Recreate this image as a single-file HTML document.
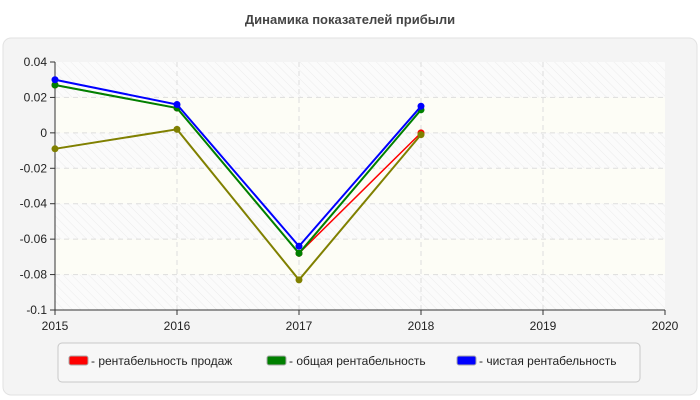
<!DOCTYPE html>
<html><head><meta charset="utf-8"><style>
body{margin:0;background:#fff;font-family:"Liberation Sans",sans-serif;}
svg{display:block}
</style></head><body>
<svg id="c" width="700" height="400" xmlns="http://www.w3.org/2000/svg">
<defs>
<pattern id="hatch" width="6" height="6" patternUnits="userSpaceOnUse" patternTransform="rotate(-45)">
<rect width="6" height="6" fill="#fbfbfb"/><line x1="0" y1="0" x2="0" y2="6" stroke="#ececec" stroke-width="1"/>
</pattern>
</defs>
<text x="350" y="24" text-anchor="middle" font-size="13" font-weight="bold" fill="#444">Динамика показателей прибыли</text>
<rect x="3" y="38" width="694" height="357" rx="8" fill="#f4f4f4" stroke="#e2e2e2"/>
<g id="plot"></g>
<g>
<rect x="58" y="343" width="582" height="39" rx="4" fill="#f7f7f7" stroke="#c8c8c8"/>
<g><rect x="69" y="356" width="19" height="9" rx="2" fill="#f00" stroke="#aaa"/><text x="91" y="365" font-size="12" fill="#222">- рентабельность продаж</text></g>
<g><rect x="267" y="356" width="19" height="9" rx="2" fill="#008000" stroke="#aaa"/><text x="289" y="365" font-size="12" fill="#222">- общая рентабельность</text></g>
<g><rect x="457" y="356" width="19" height="9" rx="2" fill="#00f" stroke="#aaa"/><text x="479" y="365" font-size="12" fill="#222">- чистая рентабельность</text></g>
</g>
</svg>
<script>
const years = [2015, 2016, 2017, 2018];
const xTicks = [2015, 2016, 2017, 2018, 2019, 2020];
const yTicks = [0.04, 0.02, 0, -0.02, -0.04, -0.06, -0.08, -0.1];
const yTickLabels = ["0.04","0.02","0","-0.02","-0.04","-0.06","-0.08","-0.1"];
const salesVals = [0.027, 0.014, -0.068, 0.0];
const totalVals = [0.027, 0.014, -0.068, 0.013];
const netVals = [0.030, 0.016, -0.064, 0.015];
const extraVals = [-0.009, 0.002, -0.083, -0.001];

const NS="http://www.w3.org/2000/svg";
const X0=55,X1=665,Y0=62,Y1=310;
const xs=v=>X0+(v-2015)/(2020-2015)*(X1-X0);
const ys=v=>Y0+(0.04-v)/(0.04+0.1)*(Y1-Y0);
const g=document.getElementById('plot');
function mk(t,a,p){const e=document.createElementNS(NS,t);for(const k in a)e.setAttribute(k,a[k]);(p||g).appendChild(e);return e;}
const bg=mk('rect',{x:X0,y:Y0,width:X1-X0,height:Y1-Y0,fill:'url(#hatch)'});


for(let i=0;i<yTicks.length-1;i+=2){const b=mk('rect',{x:X0,y:ys(yTicks[i+1]),width:X1-X0,height:ys(yTicks[i+2]??-0.1)-ys(yTicks[i+1]),fill:'#fdfdf6'});

}
yTicks.forEach((v,i)=>{
 if(i>0&&i<yTicks.length-1){const l=mk('line',{x1:X0,x2:X1,y1:ys(v),y2:ys(v),stroke:'#ddd','stroke-dasharray':'5,4'});
 
 }
 mk('line',{x1:X0-5,x2:X0,y1:ys(v),y2:ys(v),stroke:'#333'});
 const t=mk('text',{x:X0-8,y:ys(v)+4,'text-anchor':'end','font-size':12,fill:'#222'});t.textContent=yTickLabels[i];
 
 
});
xTicks.forEach(v=>{
 if(v>2015&&v<2020){const l=mk('line',{x1:xs(v),x2:xs(v),y1:Y0,y2:Y1,stroke:'#ddd','stroke-dasharray':'5,4'});
 
 }
 mk('line',{x1:xs(v),x2:xs(v),y1:Y1,y2:Y1+5,stroke:'#333'});
 const t=mk('text',{x:xs(v),y:Y1+20,'text-anchor':'middle','font-size':12,fill:'#222'});t.textContent=v;
 
 
});
const ya=mk('line',{x1:X0,x2:X0,y1:Y0,y2:Y1,stroke:'#333'});


const xa=mk('line',{x1:X0,x2:X1,y1:Y1,y2:Y1,stroke:'#333'});


function series(vals,color,name,w){
 const s=mk('g',{});
 
 
 mk('polyline',{points:vals.map((v,i)=>xs(years[i])+','+ys(v)).join(' '),fill:'none',stroke:color,'stroke-width':w},s);
 vals.forEach((v,i)=>{const c=mk('circle',{cx:xs(years[i]),cy:ys(v),r:3.5,fill:color},s);
 
 });
}
series(salesVals,'#ff0000','series-sales',1.5);
series(totalVals,'#008000','series-total',2);
series(netVals,'#0000ff','series-net',2);
series(extraVals,'#808000','series-extra',2);
</script>
</body></html>
